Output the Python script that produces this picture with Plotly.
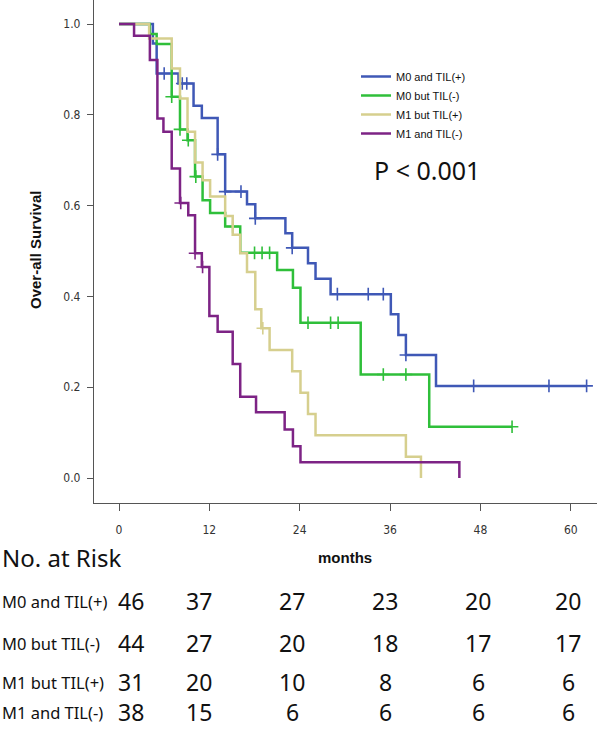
import plotly.graph_objects as go

# ---------------- data ----------------
groups = ["M0 and TIL(+)", "M0 but TIL(-)", "M1 but TIL(+)", "M1 and TIL(-)"]

# Kaplan-Meier step data (months, survival after each step)
m0_til_pos_t = [0, 4.5, 5.0, 7.9, 9.9, 11.0, 13.1, 14.1, 17.0, 18.1, 22.1, 23.0, 25.1, 26.1, 28.1, 36.1, 37.1, 38.1, 42.1, 62.1]
m0_til_pos_s = [1.0, 0.957, 0.891, 0.869, 0.820, 0.793, 0.713, 0.631, 0.603, 0.572, 0.539, 0.507, 0.473, 0.439, 0.405, 0.361, 0.315, 0.271, 0.203, 0.203]
m0_til_pos_c = [6.0, 8.4, 9.0, 13.1, 14.1, 16.2, 18.1, 23.0, 29.0, 33.1, 35.1, 38.1, 47.1, 57.1, 62.1]

m0_til_neg_t = [0, 4.1, 5.0, 7.0, 8.1, 9.1, 10.1, 11.1, 12.1, 14.1, 16.1, 21.0, 23.1, 24.1, 32.1, 41.2, 52.2]
m0_til_neg_s = [1.0, 0.978, 0.956, 0.840, 0.768, 0.744, 0.664, 0.612, 0.584, 0.554, 0.496, 0.458, 0.419, 0.342, 0.228, 0.113, 0.113]
m0_til_neg_c = [7.0, 8.1, 9.2, 10.2, 15.1, 18.0, 19.0, 20.0, 25.1, 28.1, 29.1, 35.1, 38.1, 52.2]

m1_til_pos_t = [0, 4.0, 7.0, 8.1, 9.1, 10.1, 11.1, 12.1, 14.1, 15.1, 16.1, 17.0, 18.1, 18.9, 20.0, 23.0, 24.1, 25.1, 26.1, 38.1, 40.1]
m1_til_pos_s = [1.0, 0.968, 0.902, 0.836, 0.763, 0.695, 0.656, 0.620, 0.577, 0.536, 0.495, 0.454, 0.372, 0.330, 0.282, 0.235, 0.188, 0.141, 0.094, 0.047, 0.0]
m1_til_pos_c = [19.1]

m1_til_neg_t = [0, 2.0, 4.1, 5.1, 5.9, 7.0, 8.1, 9.2, 10.1, 11.0, 12.0, 13.1, 15.1, 16.1, 18.2, 22.0, 23.1, 24.1, 45.2]
m1_til_neg_s = [1.0, 0.974, 0.921, 0.792, 0.763, 0.682, 0.606, 0.579, 0.495, 0.465, 0.357, 0.322, 0.251, 0.179, 0.145, 0.107, 0.070, 0.035, 0.0]
m1_til_neg_c = [8.2, 10.1, 11.1]

# number at risk
risk_times = [0, 12, 24, 36, 48, 60]
risk_m0_til_pos = [46, 37, 27, 23, 20, 20]
risk_m0_til_neg = [44, 27, 20, 18, 17, 17]
risk_m1_til_pos = [31, 20, 10, 8, 6, 6]
risk_m1_til_neg = [38, 15, 6, 6, 6, 6]

x_ticks = [0, 12, 24, 36, 48, 60]
y_ticks = [0.0, 0.2, 0.4, 0.6, 0.8, 1.0]
p_text = "P < 0.001"

# ---------------- layout constants ----------------
W, H = 597, 730
ML, MR, MT, MB = 94, 0, 0, 227
PW = W - ML - MR
PH = H - MT - MB
X_RANGE = [-3.32, 63.48]
Y_RANGE = [-0.055, 1.053]

colors = ["#3f58b6", "#2fbf3a", "#d6cf8e", "#7d2385"]


def fx(px):
    return (px - ML) / PW


def fy(py):
    return 1 - (py - MT) / PH


def surv_at(ts, ss, tc):
    val = ss[0]
    for t, s in zip(ts, ss):
        if t <= tc + 1e-9:
            val = s
    return val


series = [
    (m0_til_pos_t, m0_til_pos_s, m0_til_pos_c),
    (m0_til_neg_t, m0_til_neg_s, m0_til_neg_c),
    (m1_til_pos_t, m1_til_pos_s, m1_til_pos_c),
    (m1_til_neg_t, m1_til_neg_s, m1_til_neg_c),
]

fig = go.Figure()
for name, col, (ts, ss, cs) in zip(groups, colors, series):
    fig.add_trace(go.Scatter(
        x=ts, y=ss, mode="lines", name=name,
        line=dict(color=col, width=2.5, shape="hv"),
        legendgroup=name,
    ))
    fig.add_trace(go.Scatter(
        x=cs, y=[surv_at(ts, ss, c) for c in cs], mode="markers",
        marker=dict(symbol="cross-thin", size=9, color=col,
                    line=dict(color=col, width=1.6)),
        showlegend=False, legendgroup=name, hoverinfo="skip",
    ))

tick_font = dict(family="Liberation Sans Narrow, DejaVu Sans Condensed, Liberation Sans, sans-serif",
                 size=12, color="#333333")

fig.update_xaxes(
    range=X_RANGE, tickvals=x_ticks, ticktext=[str(v) for v in x_ticks],
    showline=True, linecolor="#555555", linewidth=1.2,
    ticks="outside", ticklen=7, tickcolor="#555555", tickwidth=1.2,
    showgrid=False, zeroline=False, tickfont=tick_font, ticklabelstandoff=8,
)
fig.update_yaxes(
    range=Y_RANGE, tickvals=y_ticks, ticktext=[f"{v:.1f}" for v in y_ticks],
    showline=True, linecolor="#555555", linewidth=1.2,
    ticks="outside", ticklen=6, tickcolor="#555555", tickwidth=1.2,
    showgrid=False, zeroline=False, tickfont=tick_font, ticklabelstandoff=4,
)


def note(text, px, py, size, family, xanchor="center", angle=0):
    return dict(text=text, x=fx(px), y=fy(py), xref="paper", yref="paper",
                showarrow=False, xanchor=xanchor, yanchor="middle", textangle=angle,
                font=dict(family=family, size=size, color="#111111"))


SANS = "Liberation Sans, Arial, sans-serif"
NOTO = "Noto Sans, sans-serif"

ann = [
    note("<b>Over-all Survival</b>", 35, 250, 15, SANS, angle=-90),
    note(p_text, 427, 170, 25, NOTO),
    note("<b>months</b>", 345, 557, 15, SANS),
    note("No. at Risk", 0, 557, 24, NOTO, xanchor="left"),
]

row_y = [601, 643, 682, 712]
col_x = [131, 199, 292, 385, 478, 568]
risks = [risk_m0_til_pos, risk_m0_til_neg, risk_m1_til_pos, risk_m1_til_neg]
for name, ry, rk in zip(groups, row_y, risks):
    ann.append(note(name, 0, ry, 16.5, NOTO, xanchor="left"))
    for cx, v in zip(col_x, rk):
        ann.append(note(str(v), cx, ry, 23, NOTO))

fig.update_layout(
    width=W, height=H,
    margin=dict(l=ML, r=MR, t=MT, b=MB, pad=0),
    paper_bgcolor="white", plot_bgcolor="white",
    showlegend=True,
    legend=dict(x=fx(356), y=fy(62), xanchor="left", yanchor="top",
                font=dict(family=SANS, size=11, color="#111111"),
                bgcolor="rgba(0,0,0,0)", itemwidth=30, tracegroupgap=0,
                traceorder="normal"),
    annotations=ann,
)

fig.write_html("out.html", config={"displayModeBar": False},
               post_script="document.body.style.margin='0';document.body.style.overflow='hidden';")
